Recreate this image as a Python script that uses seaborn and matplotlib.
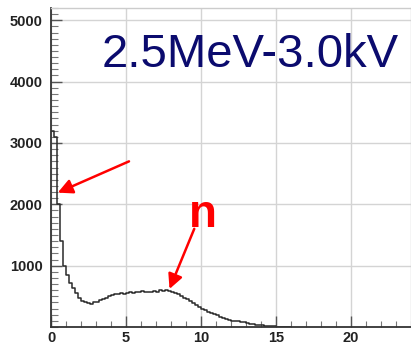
import numpy as np
import pandas as pd
import matplotlib
matplotlib.use("Agg")
import matplotlib.pyplot as plt
import seaborn as sns
from matplotlib.ticker import MultipleLocator

# Energy spectrum: counts per 0.2-wide bin starting at 0
bin_width = 0.2
counts = [
    3200, 3100, 2000, 1400, 1000, 850, 720, 640, 560, 480,
    430, 400, 390, 380, 400, 410, 440, 460, 480, 500,
    520, 530, 540, 550, 545, 560, 570, 560, 575, 570,
    580, 565, 575, 570, 580, 575, 600, 590, 610, 580,
    570, 550, 530, 510, 480, 450, 420, 390, 360, 330,
    300, 280, 250, 230, 210, 190, 170, 150, 130, 115,
    105, 100, 90, 80, 75, 60, 50, 45, 35, 30,
    25, 20, 15, 12, 10, 8, 6, 5, 4, 3,
]
x_ticks = [0, 5, 10, 15, 20]
y_ticks = [1000, 2000, 3000, 4000, 5000]
title_text = "2.5MeV-3.0kV"
peak_label = "n"

edges = (np.arange(len(counts) + 1) * bin_width).round(6).tolist()
centers = [e + bin_width / 2 for e in edges[:-1]]
df = pd.DataFrame({"energy": centers, "counts": counts})

sns.set_style("white")
plt.rcParams["font.family"] = ["Liberation Sans", "DejaVu Sans"]

fig = plt.figure(figsize=(4.11, 3.46), dpi=100)
ax = fig.add_axes([51 / 411, 1 - 327 / 346, 1 - 51 / 411, (327 - 8) / 346])

sns.histplot(data=df, x="energy", weights="counts", bins=edges,
             element="step", fill=False, color="#2a2a2a", linewidth=1.1, ax=ax)

ax.set_xlim(0, 24)
ax.set_ylim(0, 5200)
ax.set_xticks(x_ticks)
ax.set_yticks(y_ticks)
ax.xaxis.set_minor_locator(MultipleLocator(1))
ax.yaxis.set_minor_locator(MultipleLocator(100))
ax.set_xlabel("")
ax.set_ylabel("")
ax.grid(True, which="major", color="#d4d4d4", linewidth=1.0)
ax.set_axisbelow(True)

ax.tick_params(axis="both", which="both", bottom=True, left=True,
               top=False, right=False)
ax.tick_params(axis="both", which="major", direction="in", length=8, width=1,
               color="#555555", labelsize=10.5, labelcolor="#222222")
ax.tick_params(axis="both", which="minor", direction="in", length=4, width=0.8,
               color="#777777")
ax.tick_params(axis="y", which="minor", length=5)
ax.tick_params(axis="y", pad=6)
ax.tick_params(axis="x", pad=3)
for lab in ax.get_xticklabels() + ax.get_yticklabels():
    lab.set_fontweight("bold")

for side in ("left", "bottom"):
    ax.spines[side].set_color("#333333")
    ax.spines[side].set_linewidth(1.3)
for side in ("top", "right"):
    ax.spines[side].set_color("#cccccc")
    ax.spines[side].set_linewidth(1.0)

fig.text(102 / 411, 1 - 67 / 346, title_text, fontsize=34, color="#0b0b6e",
         ha="left", va="baseline")

arrow_style = dict(arrowstyle="-|>", color="red", lw=1.8, mutation_scale=22,
                   shrinkA=0, shrinkB=0)
ax.annotate("", xy=(0.45, 2190), xytext=(5.2, 2700), arrowprops=arrow_style)
ax.annotate("", xy=(7.9, 620), xytext=(9.55, 1600), arrowprops=arrow_style)
ax.text(10.1, 1830, peak_label, fontsize=33, fontweight="bold", color="red",
        ha="center", va="center")

fig.savefig("out.png", dpi=100)
